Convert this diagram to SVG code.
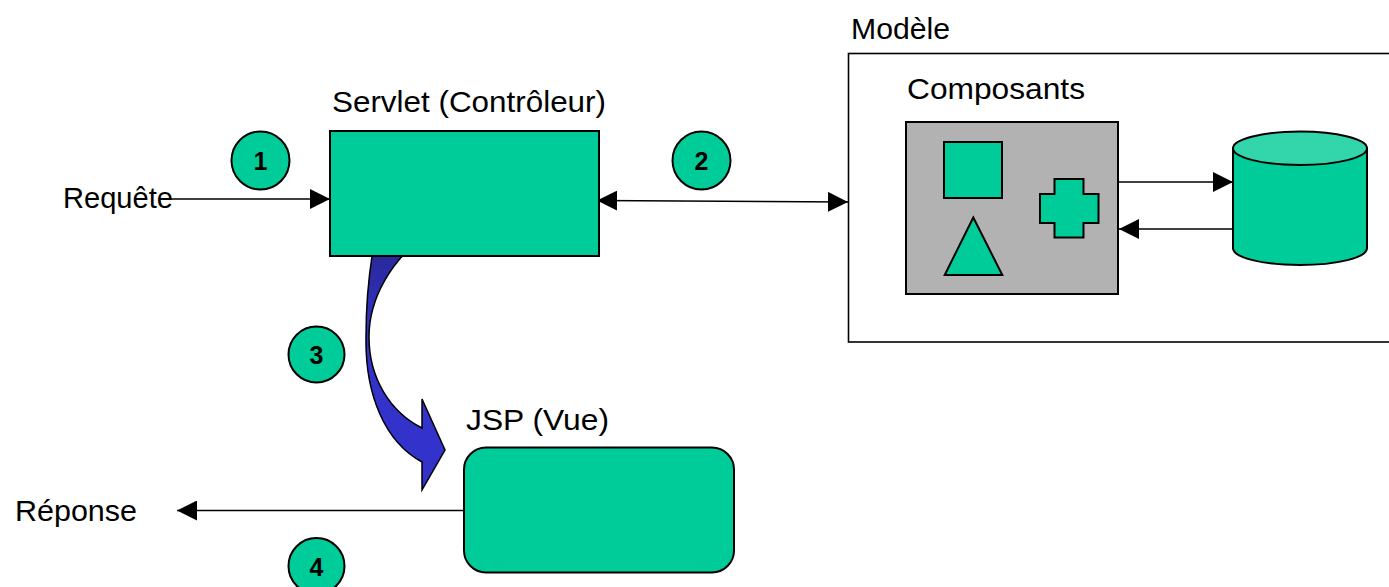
<svg xmlns="http://www.w3.org/2000/svg" width="1389" height="587" viewBox="0 0 1389 587">
<style>
.lbl{font-family:"Liberation Sans",Arial,sans-serif;font-size:29px;fill:#000}
.num{font-family:"Liberation Sans",Arial,sans-serif;font-size:25px;font-weight:bold;fill:#000;text-anchor:middle}
.green{fill:#00cc99;stroke:#000;stroke-width:2}
.line{stroke:#000;stroke-width:1.6;fill:none}
.badge{fill:#00cc99;stroke:#000;stroke-width:2}
</style>
<defs>
<marker id="ah" viewBox="0 0 20 20" refX="20" refY="10" markerWidth="20" markerHeight="20" markerUnits="userSpaceOnUse" orient="auto-start-reverse">
<path d="M0,0 L20,10 L0,20 Z" fill="#000"/>
</marker>
<linearGradient id="bg" x1="0" y1="255" x2="0" y2="345" gradientUnits="userSpaceOnUse">
<stop offset="0" stop-color="#29299a"/>
<stop offset="1" stop-color="#3333cc"/>
</linearGradient>
</defs>
<rect width="1389" height="587" fill="#fff"/>

<g id="connectors">
<line class="line" x1="168" y1="199" x2="330" y2="199" marker-end="url(#ah)"/>
<line class="line" x1="597" y1="200.5" x2="848" y2="202" marker-start="url(#ah)" marker-end="url(#ah)"/>
<line class="line" x1="1118" y1="182" x2="1233" y2="182" marker-end="url(#ah)"/>
<line class="line" x1="1233" y1="229" x2="1119" y2="229" marker-end="url(#ah)"/>
<line class="line" x1="464" y1="510.5" x2="177" y2="510.5" marker-end="url(#ah)"/>
<path id="forward" d="M373,250 L408,250 C398,260 369,292 369,337 C369,378 390,412 422,428 L422,399 L445,450 L422,490 L422,462 C385,442 365,395 366,337 C366,305 368,280 373,250 Z" fill="url(#bg)" stroke="#000" stroke-width="1.5" stroke-linejoin="miter"/>
</g>

<g id="servlet">
<rect class="green" x="330" y="131" width="269" height="125"/>
<text class="lbl" x="332" y="112" textLength="274" lengthAdjust="spacingAndGlyphs">Servlet (Contrôleur)</text>
</g>

<g id="requete">
<text class="lbl" x="63" y="208" textLength="110" lengthAdjust="spacingAndGlyphs">Requête</text>
</g>

<g id="reponse">
<text class="lbl" x="15" y="520.5" textLength="122" lengthAdjust="spacingAndGlyphs">Réponse</text>
</g>

<g id="jsp">
<rect class="green" x="464" y="447.5" width="270" height="125" rx="22" ry="22"/>
<text class="lbl" x="466" y="429.5" textLength="143" lengthAdjust="spacingAndGlyphs">JSP (Vue)</text>
</g>

<g id="modele">
<rect x="848.5" y="53.5" width="560" height="288.5" fill="none" stroke="#000" stroke-width="1.6"/>
<text class="lbl" x="851" y="38.5" textLength="99" lengthAdjust="spacingAndGlyphs">Modèle</text>
</g>

<g id="composants">
<rect x="906" y="122" width="212" height="172" fill="#b2b2b2" stroke="#000" stroke-width="2"/>
<text class="lbl" x="907" y="99" textLength="178" lengthAdjust="spacingAndGlyphs">Composants</text>
<rect class="green" x="944" y="142" width="58" height="56"/>
<path class="green" d="M973.3,217.5 L1002.3,275 L944.7,275 Z"/>
<path class="green" d="M1054.5,179 H1083.5 V194 H1098.5 V223 H1083.5 V237.5 H1054.5 V223 H1040 V194 H1054.5 Z"/>
</g>

<g id="database">
<path d="M1233,148.3 V248.3 A67,16.7 0 0 0 1367,248.3 V148.3" fill="#00cc99" stroke="#000" stroke-width="2"/>
<ellipse cx="1300" cy="148.3" rx="67" ry="16.7" fill="#33d6aa" stroke="#000" stroke-width="2"/>
</g>

<g id="badge1"><circle class="badge" cx="260.5" cy="160.5" r="29"/><text class="num" x="260.5" y="170">1</text></g>
<g id="badge2"><circle class="badge" cx="701.5" cy="160.5" r="29"/><text class="num" x="701.5" y="170">2</text></g>
<g id="badge3"><circle class="badge" cx="316.5" cy="354.5" r="28"/><text class="num" x="316.5" y="364">3</text></g>
<g id="badge4"><circle class="badge" cx="316.5" cy="566" r="28"/><text class="num" x="316.5" y="576">4</text></g>
</svg>
